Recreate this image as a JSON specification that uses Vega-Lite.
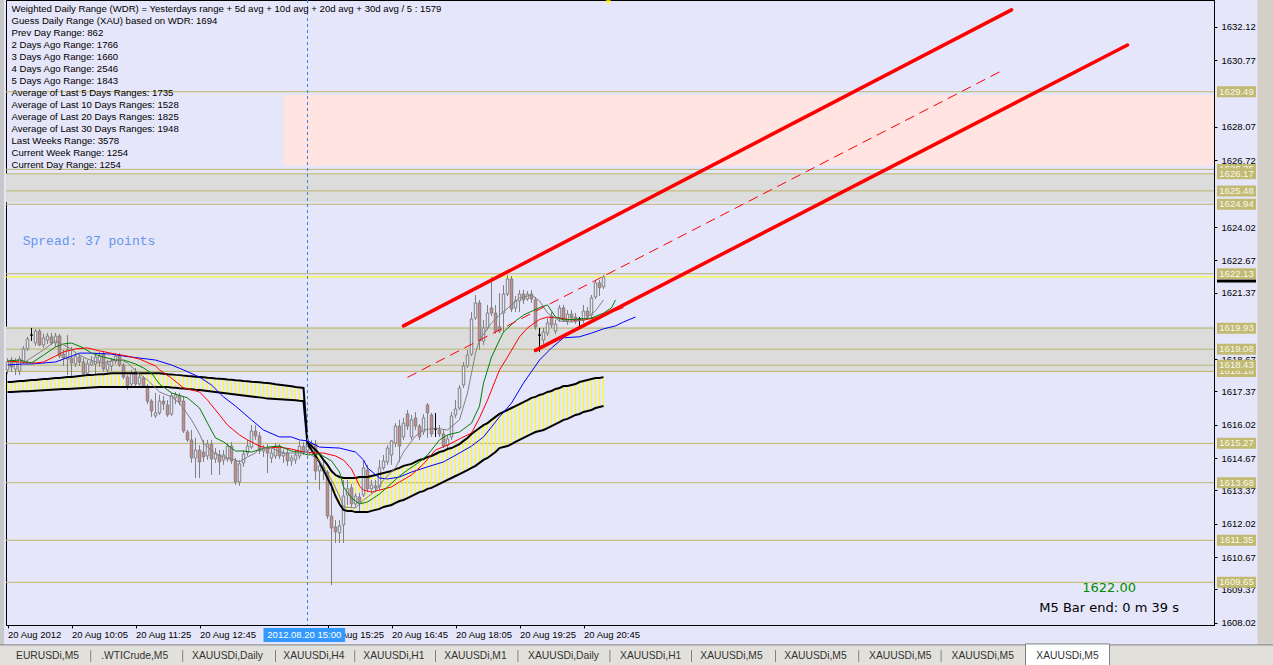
{
"$schema":"https://vega.github.io/schema/vega-lite/v6.json",
"width":1208,"height":625,
"autosize":{"type":"none"},
"padding":{"left":6,"top":0,"right":59,"bottom":40},
"config":{"background":"#E6E6FA","view":{"fill":"#E6E6FA","stroke":"#000000","strokeWidth":1},"font":"Liberation Sans","scale":{"continuousPadding":0}},
"datasets":{
"zones":[
{"t1":"2012-08-20T14:30Z","t2":"2012-08-21T12:00Z","top":1629.36,"bot":1626.50,"k":"pink"},
{"t1":"2012-08-20T06:00Z","t2":"2012-08-21T12:00Z","top":1626.17,"bot":1625.02,"k":"gray"},
{"t1":"2012-08-20T06:00Z","t2":"2012-08-21T12:00Z","top":1620.00,"bot":1618.18,"k":"gray"}],
"levels":[{"v":1629.49},{"v":1626.35},{"v":1626.17},{"v":1625.48},{"v":1624.94},{"v":1622.13},{"v":1619.93},{"v":1619.08},{"v":1618.18},{"v":1618.43},{"v":1615.27},{"v":1613.68},{"v":1611.35},{"v":1609.65}],
"bars":[
{"t":"2012-08-20T08:45Z","o":1618.24,"h":1618.72,"l":1618.07,"c":1618.56,"eu":1617.75,"el":1617.35},
{"t":"2012-08-20T08:50Z","o":1618.64,"h":1618.76,"l":1618.16,"c":1618.36,"eu":1617.75,"el":1617.35},
{"t":"2012-08-20T08:55Z","o":1618.28,"h":1618.72,"l":1618.03,"c":1618.56,"eu":1617.77,"el":1617.36},
{"t":"2012-08-20T09:00Z","o":1618.20,"h":1618.80,"l":1618.03,"c":1618.68,"eu":1617.79,"el":1617.37},
{"t":"2012-08-20T09:05Z","o":1618.56,"h":1619.21,"l":1618.48,"c":1619.09,"eu":1617.79,"el":1617.38},
{"t":"2012-08-20T09:10Z","o":1619.09,"h":1619.58,"l":1619.01,"c":1619.49,"eu":1617.81,"el":1617.38},
{"t":"2012-08-20T09:15Z","o":1619.65,"h":1619.94,"l":1619.41,"c":1619.65,"eu":1617.83,"el":1617.39},
{"t":"2012-08-20T09:20Z","o":1619.33,"h":1619.90,"l":1619.21,"c":1619.81,"eu":1617.83,"el":1617.40},
{"t":"2012-08-20T09:25Z","o":1619.81,"h":1619.90,"l":1619.21,"c":1619.25,"eu":1617.85,"el":1617.41},
{"t":"2012-08-20T09:30Z","o":1619.25,"h":1619.70,"l":1619.13,"c":1619.53,"eu":1617.87,"el":1617.42},
{"t":"2012-08-20T09:35Z","o":1619.45,"h":1619.74,"l":1619.29,"c":1619.61,"eu":1617.87,"el":1617.43},
{"t":"2012-08-20T09:40Z","o":1619.57,"h":1619.74,"l":1619.25,"c":1619.33,"eu":1617.89,"el":1617.44},
{"t":"2012-08-20T09:45Z","o":1619.33,"h":1619.74,"l":1619.17,"c":1619.61,"eu":1617.91,"el":1617.45},
{"t":"2012-08-20T09:50Z","o":1619.61,"h":1619.70,"l":1618.72,"c":1618.80,"eu":1617.91,"el":1617.46},
{"t":"2012-08-20T09:55Z","o":1618.88,"h":1619.05,"l":1618.40,"c":1618.72,"eu":1617.93,"el":1617.47},
{"t":"2012-08-20T10:00Z","o":1618.68,"h":1619.65,"l":1618.03,"c":1619.05,"eu":1617.95,"el":1617.47},
{"t":"2012-08-20T10:05Z","o":1618.72,"h":1619.17,"l":1617.95,"c":1618.52,"eu":1617.95,"el":1617.48},
{"t":"2012-08-20T10:10Z","o":1618.48,"h":1618.92,"l":1618.36,"c":1618.80,"eu":1617.97,"el":1617.49},
{"t":"2012-08-20T10:15Z","o":1618.76,"h":1618.88,"l":1618.40,"c":1618.56,"eu":1617.99,"el":1617.50},
{"t":"2012-08-20T10:20Z","o":1618.56,"h":1618.72,"l":1617.99,"c":1618.07,"eu":1618.01,"el":1617.51},
{"t":"2012-08-20T10:25Z","o":1618.11,"h":1618.64,"l":1617.99,"c":1618.48,"eu":1618.03,"el":1617.52},
{"t":"2012-08-20T10:30Z","o":1618.44,"h":1618.80,"l":1618.40,"c":1618.56,"eu":1618.03,"el":1617.53},
{"t":"2012-08-20T10:35Z","o":1618.48,"h":1618.92,"l":1618.03,"c":1618.76,"eu":1618.05,"el":1617.54},
{"t":"2012-08-20T10:40Z","o":1618.60,"h":1618.97,"l":1618.36,"c":1618.80,"eu":1618.07,"el":1617.55},
{"t":"2012-08-20T10:45Z","o":1618.88,"h":1619.01,"l":1618.16,"c":1618.28,"eu":1618.07,"el":1617.55},
{"t":"2012-08-20T10:50Z","o":1618.24,"h":1618.64,"l":1618.07,"c":1618.48,"eu":1618.09,"el":1617.55},
{"t":"2012-08-20T10:55Z","o":1618.40,"h":1618.72,"l":1618.20,"c":1618.60,"eu":1618.11,"el":1617.55},
{"t":"2012-08-20T11:00Z","o":1618.60,"h":1618.92,"l":1618.48,"c":1618.80,"eu":1618.11,"el":1617.55},
{"t":"2012-08-20T11:05Z","o":1618.80,"h":1618.92,"l":1618.36,"c":1618.44,"eu":1618.11,"el":1617.55},
{"t":"2012-08-20T11:10Z","o":1618.44,"h":1618.52,"l":1617.87,"c":1617.95,"eu":1618.11,"el":1617.55},
{"t":"2012-08-20T11:15Z","o":1617.95,"h":1618.03,"l":1617.43,"c":1617.59,"eu":1618.11,"el":1617.55},
{"t":"2012-08-20T11:20Z","o":1617.67,"h":1618.24,"l":1617.59,"c":1618.11,"eu":1618.11,"el":1617.55},
{"t":"2012-08-20T11:25Z","o":1618.16,"h":1618.32,"l":1617.59,"c":1617.67,"eu":1618.11,"el":1617.55},
{"t":"2012-08-20T11:30Z","o":1617.67,"h":1618.07,"l":1617.51,"c":1617.95,"eu":1618.11,"el":1617.55},
{"t":"2012-08-20T11:35Z","o":1617.91,"h":1617.99,"l":1617.51,"c":1617.59,"eu":1618.11,"el":1617.55},
{"t":"2012-08-20T11:40Z","o":1617.59,"h":1617.67,"l":1616.86,"c":1616.98,"eu":1618.11,"el":1617.55},
{"t":"2012-08-20T11:45Z","o":1616.98,"h":1617.06,"l":1616.34,"c":1616.58,"eu":1618.11,"el":1617.55},
{"t":"2012-08-20T11:50Z","o":1616.38,"h":1617.31,"l":1616.30,"c":1616.50,"eu":1618.11,"el":1617.55},
{"t":"2012-08-20T11:55Z","o":1616.50,"h":1617.23,"l":1616.42,"c":1616.98,"eu":1618.11,"el":1617.55},
{"t":"2012-08-20T12:00Z","o":1616.98,"h":1617.19,"l":1616.62,"c":1616.86,"eu":1618.09,"el":1617.55},
{"t":"2012-08-20T12:05Z","o":1616.82,"h":1617.02,"l":1616.34,"c":1616.42,"eu":1618.07,"el":1617.55},
{"t":"2012-08-20T12:10Z","o":1616.46,"h":1617.31,"l":1616.38,"c":1617.19,"eu":1618.06,"el":1617.53},
{"t":"2012-08-20T12:15Z","o":1617.11,"h":1617.35,"l":1616.86,"c":1617.23,"eu":1618.04,"el":1617.52},
{"t":"2012-08-20T12:20Z","o":1617.19,"h":1617.31,"l":1616.82,"c":1616.94,"eu":1618.03,"el":1617.50},
{"t":"2012-08-20T12:25Z","o":1616.98,"h":1617.15,"l":1615.69,"c":1615.77,"eu":1618.01,"el":1617.49},
{"t":"2012-08-20T12:30Z","o":1615.73,"h":1615.81,"l":1615.33,"c":1615.41,"eu":1617.99,"el":1617.47},
{"t":"2012-08-20T12:35Z","o":1615.41,"h":1615.81,"l":1614.48,"c":1614.68,"eu":1617.98,"el":1617.46},
{"t":"2012-08-20T12:40Z","o":1614.68,"h":1615.49,"l":1613.87,"c":1615.00,"eu":1617.96,"el":1617.44},
{"t":"2012-08-20T12:45Z","o":1615.00,"h":1615.20,"l":1613.87,"c":1614.52,"eu":1617.95,"el":1617.43},
{"t":"2012-08-20T12:50Z","o":1614.92,"h":1615.41,"l":1614.52,"c":1614.72,"eu":1617.94,"el":1617.41},
{"t":"2012-08-20T12:55Z","o":1614.76,"h":1615.41,"l":1614.60,"c":1615.24,"eu":1617.92,"el":1617.39},
{"t":"2012-08-20T13:00Z","o":1615.24,"h":1615.41,"l":1613.99,"c":1614.64,"eu":1617.91,"el":1617.37},
{"t":"2012-08-20T13:05Z","o":1614.64,"h":1615.08,"l":1614.48,"c":1614.88,"eu":1617.89,"el":1617.35},
{"t":"2012-08-20T13:10Z","o":1614.80,"h":1615.00,"l":1613.99,"c":1614.52,"eu":1617.88,"el":1617.33},
{"t":"2012-08-20T13:15Z","o":1614.60,"h":1615.00,"l":1614.40,"c":1614.80,"eu":1617.87,"el":1617.31},
{"t":"2012-08-20T13:20Z","o":1614.64,"h":1615.28,"l":1614.52,"c":1615.16,"eu":1617.85,"el":1617.29},
{"t":"2012-08-20T13:25Z","o":1615.16,"h":1615.32,"l":1614.44,"c":1614.56,"eu":1617.84,"el":1617.27},
{"t":"2012-08-20T13:30Z","o":1614.56,"h":1614.68,"l":1613.59,"c":1613.71,"eu":1617.82,"el":1617.25},
{"t":"2012-08-20T13:35Z","o":1613.71,"h":1614.60,"l":1613.55,"c":1614.44,"eu":1617.81,"el":1617.23},
{"t":"2012-08-20T13:40Z","o":1614.48,"h":1615.00,"l":1614.32,"c":1614.84,"eu":1617.79,"el":1617.21},
{"t":"2012-08-20T13:45Z","o":1614.88,"h":1615.41,"l":1614.76,"c":1615.16,"eu":1617.78,"el":1617.19},
{"t":"2012-08-20T13:50Z","o":1615.12,"h":1616.01,"l":1615.04,"c":1615.77,"eu":1617.76,"el":1617.17},
{"t":"2012-08-20T13:55Z","o":1615.77,"h":1616.01,"l":1615.41,"c":1615.57,"eu":1617.75,"el":1617.15},
{"t":"2012-08-20T14:00Z","o":1615.57,"h":1615.73,"l":1614.84,"c":1614.96,"eu":1617.74,"el":1617.13},
{"t":"2012-08-20T14:05Z","o":1614.96,"h":1615.20,"l":1614.72,"c":1615.04,"eu":1617.72,"el":1617.11},
{"t":"2012-08-20T14:10Z","o":1615.08,"h":1615.24,"l":1614.07,"c":1614.88,"eu":1617.71,"el":1617.08},
{"t":"2012-08-20T14:15Z","o":1614.68,"h":1615.04,"l":1614.48,"c":1614.88,"eu":1617.69,"el":1617.07},
{"t":"2012-08-20T14:20Z","o":1614.76,"h":1615.28,"l":1614.64,"c":1615.16,"eu":1617.66,"el":1617.06},
{"t":"2012-08-20T14:25Z","o":1615.16,"h":1615.24,"l":1614.64,"c":1614.76,"eu":1617.64,"el":1617.05},
{"t":"2012-08-20T14:30Z","o":1614.76,"h":1615.04,"l":1614.48,"c":1614.88,"eu":1617.62,"el":1617.04},
{"t":"2012-08-20T14:35Z","o":1614.88,"h":1615.00,"l":1614.36,"c":1614.56,"eu":1617.60,"el":1617.03},
{"t":"2012-08-20T14:40Z","o":1614.56,"h":1614.80,"l":1614.36,"c":1614.68,"eu":1617.58,"el":1617.02},
{"t":"2012-08-20T14:45Z","o":1614.60,"h":1615.00,"l":1614.44,"c":1614.80,"eu":1617.55,"el":1617.01},
{"t":"2012-08-20T14:50Z","o":1614.76,"h":1615.37,"l":1614.64,"c":1615.16,"eu":1617.53,"el":1616.99},
{"t":"2012-08-20T14:55Z","o":1615.16,"h":1615.32,"l":1614.80,"c":1614.92,"eu":1617.51,"el":1616.98},
{"t":"2012-08-20T15:00Z","o":1614.96,"h":1615.41,"l":1614.80,"c":1615.24,"eu":1615.33,"el":1615.24},
{"t":"2012-08-20T15:05Z","o":1615.24,"h":1615.41,"l":1614.92,"c":1615.08,"eu":1615.16,"el":1615.00},
{"t":"2012-08-20T15:10Z","o":1615.24,"h":1615.41,"l":1613.79,"c":1614.15,"eu":1615.00,"el":1614.76},
{"t":"2012-08-20T15:15Z","o":1614.15,"h":1614.52,"l":1613.38,"c":1614.36,"eu":1614.84,"el":1614.52},
{"t":"2012-08-20T15:20Z","o":1614.32,"h":1614.60,"l":1613.79,"c":1614.15,"eu":1614.60,"el":1614.19},
{"t":"2012-08-20T15:25Z","o":1614.11,"h":1614.19,"l":1612.21,"c":1612.33,"eu":1614.40,"el":1613.87},
{"t":"2012-08-20T15:30Z","o":1612.33,"h":1613.71,"l":1609.54,"c":1611.85,"eu":1614.15,"el":1613.55},
{"t":"2012-08-20T15:35Z","o":1611.89,"h":1612.17,"l":1611.24,"c":1611.69,"eu":1613.99,"el":1613.14},
{"t":"2012-08-20T15:40Z","o":1611.65,"h":1612.17,"l":1611.24,"c":1611.93,"eu":1613.91,"el":1612.82},
{"t":"2012-08-20T15:45Z","o":1611.97,"h":1613.79,"l":1611.24,"c":1613.14,"eu":1613.87,"el":1612.58},
{"t":"2012-08-20T15:50Z","o":1613.18,"h":1613.79,"l":1612.78,"c":1613.43,"eu":1613.87,"el":1612.54},
{"t":"2012-08-20T15:55Z","o":1613.47,"h":1613.63,"l":1612.70,"c":1612.82,"eu":1613.87,"el":1612.54},
{"t":"2012-08-20T16:00Z","o":1612.82,"h":1613.26,"l":1612.70,"c":1613.14,"eu":1613.87,"el":1612.49},
{"t":"2012-08-20T16:05Z","o":1613.10,"h":1613.26,"l":1612.49,"c":1612.86,"eu":1613.91,"el":1612.49},
{"t":"2012-08-20T16:10Z","o":1613.18,"h":1614.60,"l":1613.10,"c":1614.28,"eu":1613.91,"el":1612.49},
{"t":"2012-08-20T16:15Z","o":1614.19,"h":1614.40,"l":1613.30,"c":1613.43,"eu":1613.91,"el":1612.49},
{"t":"2012-08-20T16:20Z","o":1613.43,"h":1613.79,"l":1613.26,"c":1613.59,"eu":1613.95,"el":1612.54},
{"t":"2012-08-20T16:25Z","o":1613.55,"h":1613.79,"l":1613.30,"c":1613.47,"eu":1613.99,"el":1612.58},
{"t":"2012-08-20T16:30Z","o":1613.51,"h":1614.60,"l":1613.38,"c":1614.28,"eu":1614.03,"el":1612.62},
{"t":"2012-08-20T16:35Z","o":1614.28,"h":1614.80,"l":1614.19,"c":1614.56,"eu":1614.07,"el":1612.70},
{"t":"2012-08-20T16:40Z","o":1614.52,"h":1615.20,"l":1614.40,"c":1615.08,"eu":1614.11,"el":1612.74},
{"t":"2012-08-20T16:45Z","o":1614.80,"h":1615.41,"l":1614.40,"c":1615.37,"eu":1614.15,"el":1612.78},
{"t":"2012-08-20T16:50Z","o":1615.28,"h":1616.09,"l":1615.12,"c":1615.97,"eu":1614.23,"el":1612.86},
{"t":"2012-08-20T16:55Z","o":1615.97,"h":1616.22,"l":1614.52,"c":1615.16,"eu":1614.28,"el":1612.94},
{"t":"2012-08-20T17:00Z","o":1615.53,"h":1616.30,"l":1615.41,"c":1616.09,"eu":1614.36,"el":1612.98},
{"t":"2012-08-20T17:05Z","o":1616.46,"h":1616.62,"l":1615.81,"c":1615.97,"eu":1614.40,"el":1613.06},
{"t":"2012-08-20T17:10Z","o":1615.53,"h":1616.42,"l":1615.41,"c":1616.22,"eu":1614.44,"el":1613.14},
{"t":"2012-08-20T17:15Z","o":1616.30,"h":1616.54,"l":1615.81,"c":1615.97,"eu":1614.52,"el":1613.22},
{"t":"2012-08-20T17:20Z","o":1615.97,"h":1616.05,"l":1615.41,"c":1615.53,"eu":1614.60,"el":1613.30},
{"t":"2012-08-20T17:25Z","o":1615.73,"h":1616.46,"l":1615.61,"c":1616.30,"eu":1614.64,"el":1613.34},
{"t":"2012-08-20T17:30Z","o":1616.82,"h":1616.90,"l":1615.49,"c":1616.50,"eu":1614.72,"el":1613.43},
{"t":"2012-08-20T17:35Z","o":1616.42,"h":1616.50,"l":1615.53,"c":1615.65,"eu":1614.76,"el":1613.47},
{"t":"2012-08-20T17:40Z","o":1615.85,"h":1616.50,"l":1615.53,"c":1615.85,"eu":1614.84,"el":1613.55},
{"t":"2012-08-20T17:45Z","o":1615.81,"h":1616.01,"l":1615.53,"c":1615.65,"eu":1614.92,"el":1613.63},
{"t":"2012-08-20T17:50Z","o":1615.65,"h":1615.81,"l":1615.08,"c":1615.16,"eu":1614.96,"el":1613.71},
{"t":"2012-08-20T17:55Z","o":1615.20,"h":1615.61,"l":1615.08,"c":1615.45,"eu":1615.04,"el":1613.79},
{"t":"2012-08-20T18:00Z","o":1615.53,"h":1616.54,"l":1615.41,"c":1616.38,"eu":1615.08,"el":1613.87},
{"t":"2012-08-20T18:05Z","o":1616.42,"h":1617.02,"l":1616.30,"c":1616.66,"eu":1615.16,"el":1613.95},
{"t":"2012-08-20T18:10Z","o":1616.70,"h":1617.63,"l":1616.62,"c":1617.51,"eu":1615.24,"el":1614.03},
{"t":"2012-08-20T18:15Z","o":1617.63,"h":1618.56,"l":1617.51,"c":1618.40,"eu":1615.37,"el":1614.11},
{"t":"2012-08-20T18:20Z","o":1618.40,"h":1619.05,"l":1618.32,"c":1618.84,"eu":1615.49,"el":1614.19},
{"t":"2012-08-20T18:25Z","o":1618.88,"h":1620.58,"l":1618.80,"c":1620.30,"eu":1615.65,"el":1614.28},
{"t":"2012-08-20T18:30Z","o":1620.34,"h":1621.27,"l":1620.26,"c":1620.95,"eu":1615.77,"el":1614.36},
{"t":"2012-08-20T18:35Z","o":1620.95,"h":1621.07,"l":1619.05,"c":1619.41,"eu":1615.89,"el":1614.48},
{"t":"2012-08-20T18:40Z","o":1619.41,"h":1620.26,"l":1619.25,"c":1619.94,"eu":1616.01,"el":1614.60},
{"t":"2012-08-20T18:45Z","o":1619.94,"h":1620.87,"l":1619.86,"c":1620.54,"eu":1616.09,"el":1614.68},
{"t":"2012-08-20T18:50Z","o":1620.75,"h":1622.00,"l":1620.42,"c":1620.54,"eu":1616.22,"el":1614.80},
{"t":"2012-08-20T18:55Z","o":1620.54,"h":1620.87,"l":1619.70,"c":1619.81,"eu":1616.34,"el":1614.92},
{"t":"2012-08-20T19:00Z","o":1619.98,"h":1621.35,"l":1619.73,"c":1619.81,"eu":1616.46,"el":1615.08},
{"t":"2012-08-20T19:05Z","o":1620.54,"h":1621.67,"l":1619.77,"c":1621.31,"eu":1616.54,"el":1615.12},
{"t":"2012-08-20T19:10Z","o":1621.31,"h":1622.08,"l":1621.23,"c":1621.92,"eu":1616.62,"el":1615.16},
{"t":"2012-08-20T19:15Z","o":1621.92,"h":1622.04,"l":1620.58,"c":1620.70,"eu":1616.70,"el":1615.24},
{"t":"2012-08-20T19:20Z","o":1620.75,"h":1621.23,"l":1620.58,"c":1621.03,"eu":1616.78,"el":1615.33},
{"t":"2012-08-20T19:25Z","o":1621.03,"h":1621.47,"l":1620.58,"c":1621.31,"eu":1616.86,"el":1615.41},
{"t":"2012-08-20T19:30Z","o":1621.31,"h":1621.47,"l":1620.91,"c":1621.07,"eu":1616.94,"el":1615.49},
{"t":"2012-08-20T19:35Z","o":1621.11,"h":1621.43,"l":1621.03,"c":1621.31,"eu":1617.02,"el":1615.57},
{"t":"2012-08-20T19:40Z","o":1621.31,"h":1621.47,"l":1620.95,"c":1621.11,"eu":1617.11,"el":1615.65},
{"t":"2012-08-20T19:45Z","o":1621.07,"h":1621.19,"l":1619.86,"c":1619.98,"eu":1617.15,"el":1615.73},
{"t":"2012-08-20T19:50Z","o":1619.65,"h":1619.94,"l":1618.97,"c":1619.65,"eu":1617.23,"el":1615.77},
{"t":"2012-08-20T19:55Z","o":1619.45,"h":1619.94,"l":1619.29,"c":1619.77,"eu":1617.27,"el":1615.81},
{"t":"2012-08-20T20:00Z","o":1619.73,"h":1620.34,"l":1619.61,"c":1620.14,"eu":1617.35,"el":1615.89},
{"t":"2012-08-20T20:05Z","o":1620.42,"h":1620.58,"l":1619.94,"c":1620.06,"eu":1617.39,"el":1615.97},
{"t":"2012-08-20T20:10Z","o":1619.81,"h":1620.26,"l":1619.69,"c":1620.10,"eu":1617.47,"el":1616.05},
{"t":"2012-08-20T20:15Z","o":1620.34,"h":1620.87,"l":1620.18,"c":1620.75,"eu":1617.51,"el":1616.13},
{"t":"2012-08-20T20:20Z","o":1620.75,"h":1620.87,"l":1620.18,"c":1620.30,"eu":1617.59,"el":1616.22},
{"t":"2012-08-20T20:25Z","o":1620.22,"h":1620.66,"l":1620.06,"c":1620.50,"eu":1617.59,"el":1616.26},
{"t":"2012-08-20T20:30Z","o":1620.50,"h":1620.66,"l":1620.18,"c":1620.34,"eu":1617.63,"el":1616.34},
{"t":"2012-08-20T20:35Z","o":1620.38,"h":1620.54,"l":1620.10,"c":1620.22,"eu":1617.67,"el":1616.42},
{"t":"2012-08-20T20:40Z","o":1620.30,"h":1620.38,"l":1619.98,"c":1620.30,"eu":1617.75,"el":1616.46},
{"t":"2012-08-20T20:45Z","o":1620.26,"h":1620.87,"l":1620.14,"c":1620.62,"eu":1617.79,"el":1616.54},
{"t":"2012-08-20T20:50Z","o":1620.62,"h":1620.79,"l":1620.30,"c":1620.42,"eu":1617.83,"el":1616.58},
{"t":"2012-08-20T20:55Z","o":1620.46,"h":1621.27,"l":1620.34,"c":1621.15,"eu":1617.87,"el":1616.62},
{"t":"2012-08-20T21:00Z","o":1621.19,"h":1621.88,"l":1621.11,"c":1621.76,"eu":1617.91,"el":1616.70},
{"t":"2012-08-20T21:05Z","o":1621.76,"h":1621.88,"l":1621.23,"c":1621.56,"eu":1617.91,"el":1616.74},
{"t":"2012-08-20T21:10Z","o":1621.60,"h":1622.08,"l":1621.51,"c":1622.00,"eu":1617.95,"el":1616.78}],
"ma":[
{"t":"2012-08-20T08:45Z","s":"b","v":1618.44},{"t":"2012-08-20T09:05Z","s":"b","v":1618.48},{"t":"2012-08-20T09:15Z","s":"b","v":1618.48},{"t":"2012-08-20T09:45Z","s":"b","v":1618.56},{"t":"2012-08-20T10:05Z","s":"b","v":1618.80},{"t":"2012-08-20T10:15Z","s":"b","v":1618.92},{"t":"2012-08-20T10:30Z","s":"b","v":1618.92},{"t":"2012-08-20T10:55Z","s":"b","v":1618.88},{"t":"2012-08-20T11:10Z","s":"b","v":1618.80},{"t":"2012-08-20T11:30Z","s":"b","v":1618.72},{"t":"2012-08-20T11:50Z","s":"b","v":1618.64},{"t":"2012-08-20T12:10Z","s":"b","v":1618.44},{"t":"2012-08-20T12:25Z","s":"b","v":1618.24},{"t":"2012-08-20T12:45Z","s":"b","v":1617.95},{"t":"2012-08-20T13:00Z","s":"b","v":1617.63},{"t":"2012-08-20T13:15Z","s":"b","v":1617.15},{"t":"2012-08-20T13:30Z","s":"b","v":1616.78},{"t":"2012-08-20T13:50Z","s":"b","v":1616.22},{"t":"2012-08-20T14:05Z","s":"b","v":1615.81},{"t":"2012-08-20T14:25Z","s":"b","v":1615.53},{"t":"2012-08-20T14:40Z","s":"b","v":1615.53},{"t":"2012-08-20T14:50Z","s":"b","v":1615.41},{"t":"2012-08-20T15:00Z","s":"b","v":1615.37},{"t":"2012-08-20T15:15Z","s":"b","v":1615.12},{"t":"2012-08-20T15:40Z","s":"b","v":1615.08},{"t":"2012-08-20T16:00Z","s":"b","v":1614.92},{"t":"2012-08-20T16:10Z","s":"b","v":1614.60},{"t":"2012-08-20T16:15Z","s":"b","v":1614.28},{"t":"2012-08-20T16:30Z","s":"b","v":1613.87},{"t":"2012-08-20T16:40Z","s":"b","v":1613.83},{"t":"2012-08-20T16:55Z","s":"b","v":1613.91},{"t":"2012-08-20T17:10Z","s":"b","v":1614.11},{"t":"2012-08-20T17:30Z","s":"b","v":1614.32},{"t":"2012-08-20T17:50Z","s":"b","v":1614.52},{"t":"2012-08-20T18:10Z","s":"b","v":1614.88},{"t":"2012-08-20T18:25Z","s":"b","v":1615.16},{"t":"2012-08-20T18:40Z","s":"b","v":1615.53},{"t":"2012-08-20T19:00Z","s":"b","v":1616.34},{"t":"2012-08-20T19:15Z","s":"b","v":1616.90},{"t":"2012-08-20T19:30Z","s":"b","v":1617.71},{"t":"2012-08-20T19:50Z","s":"b","v":1618.64},{"t":"2012-08-20T20:05Z","s":"b","v":1619.13},{"t":"2012-08-20T20:20Z","s":"b","v":1619.54},{"t":"2012-08-20T20:40Z","s":"b","v":1619.58},{"t":"2012-08-20T20:55Z","s":"b","v":1619.73},{"t":"2012-08-20T21:10Z","s":"b","v":1619.90},{"t":"2012-08-20T21:25Z","s":"b","v":1620.02},{"t":"2012-08-20T21:35Z","s":"b","v":1620.18},{"t":"2012-08-20T21:50Z","s":"b","v":1620.38},
{"t":"2012-08-20T08:45Z","s":"r","v":1618.60},{"t":"2012-08-20T09:00Z","s":"r","v":1618.56},{"t":"2012-08-20T09:20Z","s":"r","v":1618.52},{"t":"2012-08-20T09:30Z","s":"r","v":1618.56},{"t":"2012-08-20T09:45Z","s":"r","v":1618.80},{"t":"2012-08-20T09:55Z","s":"r","v":1618.97},{"t":"2012-08-20T10:10Z","s":"r","v":1619.09},{"t":"2012-08-20T10:25Z","s":"r","v":1619.13},{"t":"2012-08-20T10:40Z","s":"r","v":1619.01},{"t":"2012-08-20T11:00Z","s":"r","v":1618.88},{"t":"2012-08-20T11:15Z","s":"r","v":1618.80},{"t":"2012-08-20T11:30Z","s":"r","v":1618.68},{"t":"2012-08-20T11:50Z","s":"r","v":1618.40},{"t":"2012-08-20T11:55Z","s":"r","v":1618.24},{"t":"2012-08-20T12:10Z","s":"r","v":1617.91},{"t":"2012-08-20T12:25Z","s":"r","v":1617.51},{"t":"2012-08-20T12:45Z","s":"r","v":1617.35},{"t":"2012-08-20T12:55Z","s":"r","v":1617.02},{"t":"2012-08-20T13:10Z","s":"r","v":1616.42},{"t":"2012-08-20T13:20Z","s":"r","v":1616.01},{"t":"2012-08-20T13:35Z","s":"r","v":1615.61},{"t":"2012-08-20T13:45Z","s":"r","v":1615.41},{"t":"2012-08-20T14:00Z","s":"r","v":1615.16},{"t":"2012-08-20T14:10Z","s":"r","v":1615.08},{"t":"2012-08-20T14:25Z","s":"r","v":1615.12},{"t":"2012-08-20T14:40Z","s":"r","v":1615.04},{"t":"2012-08-20T14:55Z","s":"r","v":1614.92},{"t":"2012-08-20T15:10Z","s":"r","v":1614.88},{"t":"2012-08-20T15:20Z","s":"r","v":1614.88},{"t":"2012-08-20T15:35Z","s":"r","v":1614.76},{"t":"2012-08-20T15:45Z","s":"r","v":1614.60},{"t":"2012-08-20T15:55Z","s":"r","v":1614.23},{"t":"2012-08-20T16:05Z","s":"r","v":1613.55},{"t":"2012-08-20T16:10Z","s":"r","v":1613.38},{"t":"2012-08-20T16:20Z","s":"r","v":1613.30},{"t":"2012-08-20T16:30Z","s":"r","v":1613.38},{"t":"2012-08-20T16:45Z","s":"r","v":1613.51},{"t":"2012-08-20T16:55Z","s":"r","v":1613.71},{"t":"2012-08-20T17:10Z","s":"r","v":1613.99},{"t":"2012-08-20T17:25Z","s":"r","v":1614.44},{"t":"2012-08-20T17:40Z","s":"r","v":1615.00},{"t":"2012-08-20T17:55Z","s":"r","v":1615.20},{"t":"2012-08-20T18:10Z","s":"r","v":1615.45},{"t":"2012-08-20T18:25Z","s":"r","v":1615.69},{"t":"2012-08-20T18:35Z","s":"r","v":1616.30},{"t":"2012-08-20T18:45Z","s":"r","v":1617.02},{"t":"2012-08-20T19:00Z","s":"r","v":1618.24},{"t":"2012-08-20T19:10Z","s":"r","v":1618.76},{"t":"2012-08-20T19:25Z","s":"r","v":1619.58},{"t":"2012-08-20T19:35Z","s":"r","v":1619.94},{"t":"2012-08-20T19:50Z","s":"r","v":1620.28},{"t":"2012-08-20T20:00Z","s":"r","v":1620.38},{"t":"2012-08-20T20:15Z","s":"r","v":1620.34},{"t":"2012-08-20T20:30Z","s":"r","v":1620.26},{"t":"2012-08-20T20:45Z","s":"r","v":1620.26},{"t":"2012-08-20T21:05Z","s":"r","v":1620.38},{"t":"2012-08-20T21:20Z","s":"r","v":1620.58},{"t":"2012-08-20T21:35Z","s":"r","v":1620.76},
{"t":"2012-08-20T08:45Z","s":"n","v":1618.60},{"t":"2012-08-20T09:00Z","s":"n","v":1618.64},{"t":"2012-08-20T09:15Z","s":"n","v":1618.52},{"t":"2012-08-20T09:30Z","s":"n","v":1618.84},{"t":"2012-08-20T09:45Z","s":"n","v":1619.17},{"t":"2012-08-20T09:55Z","s":"n","v":1619.29},{"t":"2012-08-20T10:05Z","s":"n","v":1619.33},{"t":"2012-08-20T10:20Z","s":"n","v":1619.13},{"t":"2012-08-20T10:30Z","s":"n","v":1618.92},{"t":"2012-08-20T10:45Z","s":"n","v":1618.76},{"t":"2012-08-20T11:00Z","s":"n","v":1618.64},{"t":"2012-08-20T11:10Z","s":"n","v":1618.64},{"t":"2012-08-20T11:25Z","s":"n","v":1618.48},{"t":"2012-08-20T11:35Z","s":"n","v":1618.32},{"t":"2012-08-20T11:45Z","s":"n","v":1618.11},{"t":"2012-08-20T11:55Z","s":"n","v":1617.67},{"t":"2012-08-20T12:10Z","s":"n","v":1617.31},{"t":"2012-08-20T12:30Z","s":"n","v":1617.11},{"t":"2012-08-20T12:45Z","s":"n","v":1616.70},{"t":"2012-08-20T12:55Z","s":"n","v":1616.09},{"t":"2012-08-20T13:05Z","s":"n","v":1615.49},{"t":"2012-08-20T13:15Z","s":"n","v":1615.33},{"t":"2012-08-20T13:30Z","s":"n","v":1614.96},{"t":"2012-08-20T13:40Z","s":"n","v":1614.96},{"t":"2012-08-20T13:50Z","s":"n","v":1614.92},{"t":"2012-08-20T14:10Z","s":"n","v":1615.12},{"t":"2012-08-20T14:25Z","s":"n","v":1615.16},{"t":"2012-08-20T14:40Z","s":"n","v":1614.96},{"t":"2012-08-20T14:50Z","s":"n","v":1614.92},{"t":"2012-08-20T15:00Z","s":"n","v":1614.80},{"t":"2012-08-20T15:15Z","s":"n","v":1614.84},{"t":"2012-08-20T15:30Z","s":"n","v":1614.56},{"t":"2012-08-20T15:40Z","s":"n","v":1614.11},{"t":"2012-08-20T15:45Z","s":"n","v":1613.51},{"t":"2012-08-20T15:55Z","s":"n","v":1613.06},{"t":"2012-08-20T16:05Z","s":"n","v":1612.82},{"t":"2012-08-20T16:15Z","s":"n","v":1612.90},{"t":"2012-08-20T16:30Z","s":"n","v":1613.22},{"t":"2012-08-20T16:40Z","s":"n","v":1613.51},{"t":"2012-08-20T16:55Z","s":"n","v":1613.95},{"t":"2012-08-20T17:05Z","s":"n","v":1614.19},{"t":"2012-08-20T17:20Z","s":"n","v":1614.52},{"t":"2012-08-20T17:30Z","s":"n","v":1614.80},{"t":"2012-08-20T17:45Z","s":"n","v":1615.41},{"t":"2012-08-20T17:55Z","s":"n","v":1615.61},{"t":"2012-08-20T18:10Z","s":"n","v":1615.73},{"t":"2012-08-20T18:25Z","s":"n","v":1616.09},{"t":"2012-08-20T18:35Z","s":"n","v":1616.78},{"t":"2012-08-20T18:40Z","s":"n","v":1617.71},{"t":"2012-08-20T18:50Z","s":"n","v":1618.76},{"t":"2012-08-20T19:00Z","s":"n","v":1619.45},{"t":"2012-08-20T19:05Z","s":"n","v":1619.77},{"t":"2012-08-20T19:20Z","s":"n","v":1620.22},{"t":"2012-08-20T19:30Z","s":"n","v":1620.46},{"t":"2012-08-20T19:50Z","s":"n","v":1620.76},{"t":"2012-08-20T20:00Z","s":"n","v":1620.87},{"t":"2012-08-20T20:10Z","s":"n","v":1620.38},{"t":"2012-08-20T20:20Z","s":"n","v":1620.26},{"t":"2012-08-20T20:40Z","s":"n","v":1620.30},{"t":"2012-08-20T20:55Z","s":"n","v":1620.34},{"t":"2012-08-20T21:10Z","s":"n","v":1620.54},{"t":"2012-08-20T21:20Z","s":"n","v":1620.75},{"t":"2012-08-20T21:25Z","s":"n","v":1621.07},
{"t":"2012-08-20T09:05Z","s":"g","v":1618.52},{"t":"2012-08-20T09:30Z","s":"g","v":1619.05},{"t":"2012-08-20T09:45Z","s":"g","v":1619.41},{"t":"2012-08-20T10:00Z","s":"g","v":1619.17},{"t":"2012-08-20T10:15Z","s":"g","v":1618.84},{"t":"2012-08-20T10:25Z","s":"g","v":1618.68},{"t":"2012-08-20T10:40Z","s":"g","v":1618.52},{"t":"2012-08-20T10:50Z","s":"g","v":1618.56},{"t":"2012-08-20T11:05Z","s":"g","v":1618.68},{"t":"2012-08-20T11:15Z","s":"g","v":1618.52},{"t":"2012-08-20T11:30Z","s":"g","v":1618.07},{"t":"2012-08-20T11:40Z","s":"g","v":1617.83},{"t":"2012-08-20T11:50Z","s":"g","v":1617.51},{"t":"2012-08-20T11:55Z","s":"g","v":1617.35},{"t":"2012-08-20T12:10Z","s":"g","v":1617.15},{"t":"2012-08-20T12:20Z","s":"g","v":1616.90},{"t":"2012-08-20T12:35Z","s":"g","v":1616.22},{"t":"2012-08-20T12:45Z","s":"g","v":1615.65},{"t":"2012-08-20T12:50Z","s":"g","v":1615.28},{"t":"2012-08-20T13:05Z","s":"g","v":1614.84},{"t":"2012-08-20T13:15Z","s":"g","v":1614.72},{"t":"2012-08-20T13:30Z","s":"g","v":1614.60},{"t":"2012-08-20T13:35Z","s":"g","v":1614.52},{"t":"2012-08-20T13:45Z","s":"g","v":1614.72},{"t":"2012-08-20T13:55Z","s":"g","v":1614.88},{"t":"2012-08-20T14:00Z","s":"g","v":1615.08},{"t":"2012-08-20T14:15Z","s":"g","v":1615.08},{"t":"2012-08-20T14:30Z","s":"g","v":1614.88},{"t":"2012-08-20T14:50Z","s":"g","v":1614.88},{"t":"2012-08-20T15:00Z","s":"g","v":1614.92},{"t":"2012-08-20T15:15Z","s":"g","v":1614.56},{"t":"2012-08-20T15:30Z","s":"g","v":1613.79},{"t":"2012-08-20T15:40Z","s":"g","v":1613.14},{"t":"2012-08-20T15:45Z","s":"g","v":1612.70},{"t":"2012-08-20T16:00Z","s":"g","v":1612.66},{"t":"2012-08-20T16:10Z","s":"g","v":1612.98},{"t":"2012-08-20T16:25Z","s":"g","v":1613.34},{"t":"2012-08-20T16:35Z","s":"g","v":1613.79},{"t":"2012-08-20T16:50Z","s":"g","v":1614.28},{"t":"2012-08-20T17:00Z","s":"g","v":1614.92},{"t":"2012-08-20T17:15Z","s":"g","v":1615.57},{"t":"2012-08-20T17:25Z","s":"g","v":1615.81},{"t":"2012-08-20T17:40Z","s":"g","v":1615.89},{"t":"2012-08-20T17:55Z","s":"g","v":1615.81},{"t":"2012-08-20T18:10Z","s":"g","v":1616.22},{"t":"2012-08-20T18:20Z","s":"g","v":1617.31},{"t":"2012-08-20T18:30Z","s":"g","v":1618.92},{"t":"2012-08-20T18:35Z","s":"g","v":1619.45},{"t":"2012-08-20T18:50Z","s":"g","v":1620.14},{"t":"2012-08-20T19:00Z","s":"g","v":1620.46},{"t":"2012-08-20T19:15Z","s":"g","v":1620.87},{"t":"2012-08-20T19:25Z","s":"g","v":1621.15},{"t":"2012-08-20T19:40Z","s":"g","v":1621.27},{"t":"2012-08-20T19:50Z","s":"g","v":1621.03},{"t":"2012-08-20T20:00Z","s":"g","v":1620.54},{"t":"2012-08-20T20:15Z","s":"g","v":1620.22},{"t":"2012-08-20T20:30Z","s":"g","v":1620.18},{"t":"2012-08-20T20:45Z","s":"g","v":1620.26},{"t":"2012-08-20T21:00Z","s":"g","v":1620.63},{"t":"2012-08-20T21:10Z","s":"g","v":1621.07}],
"trend":[
{"t":"2012-08-20T17:00Z","v":1620.02,"s":"up"},{"t":"2012-08-21T05:40Z","v":1632.80,"s":"up"},
{"t":"2012-08-20T19:45Z","v":1619.03,"s":"lo"},{"t":"2012-08-21T08:05Z","v":1631.38,"s":"lo"},
{"t":"2012-08-20T17:05Z","v":1617.94,"s":"mid"},{"t":"2012-08-21T05:25Z","v":1630.29,"s":"mid"}],
"tabs":[
{"t":"2012-08-20T09:35Z","name":"EURUSDi,M5"},{"t":"2012-08-20T11:24Z","name":".WTICrude,M5"},{"t":"2012-08-20T13:20Z","name":"XAUUSDi,Daily"},{"t":"2012-08-20T15:08Z","name":"XAUUSDi,H4"},{"t":"2012-08-20T16:48Z","name":"XAUUSDi,H1"},{"t":"2012-08-20T18:30Z","name":"XAUUSDi,M1"},{"t":"2012-08-20T20:20Z","name":"XAUUSDi,Daily"},{"t":"2012-08-20T22:09Z","name":"XAUUSDi,H1"},{"t":"2012-08-20T23:50Z","name":"XAUUSDi,M5"},{"t":"2012-08-21T01:35Z","name":"XAUUSDi,M5"},{"t":"2012-08-21T03:21Z","name":"XAUUSDi,M5"},{"t":"2012-08-21T05:04Z","name":"XAUUSDi,M5"},{"t":"2012-08-21T06:50Z","name":"XAUUSDi,M5"}],
"seps":[{"t":"2012-08-20T10:29Z"},{"t":"2012-08-20T12:24Z"},{"t":"2012-08-20T14:20Z"},{"t":"2012-08-20T15:59Z"},{"t":"2012-08-20T17:40Z"},{"t":"2012-08-20T19:23Z"},{"t":"2012-08-20T21:18Z"},{"t":"2012-08-20T23:00Z"},{"t":"2012-08-21T00:45Z"},{"t":"2012-08-21T02:29Z"},{"t":"2012-08-21T04:12Z"}]
},
"layer":[
{"data":{"name":"zones"},
 "mark":{"type":"rect","clip":true},
 "encoding":{
  "x":{"field":"t1","type":"temporal",
   "scale":{"type":"utc","nice":false,"padding":0,"domain":[{"year":2012,"month":8,"date":20,"hours":8,"minutes":43,"seconds":7,"milliseconds":500,"utc":true},{"year":2012,"month":8,"date":21,"hours":9,"minutes":53,"seconds":7,"milliseconds":500,"utc":true}]},
   "axis":{"orient":"bottom","title":null,"grid":false,"tickSize":3,"tickColor":"#000000","domainColor":"#000000","labelAlign":"left","labelBaseline":"top","labelPadding":1,"labelFont":"Liberation Sans","labelFontSize":9.5,"labelColor":"#000000","labelOverlap":false,"labelFlush":false,"labelBound":false,
    "values":[{"year":2012,"month":8,"date":20,"hours":8,"minutes":45,"utc":true},{"year":2012,"month":8,"date":20,"hours":10,"minutes":5,"utc":true},{"year":2012,"month":8,"date":20,"hours":11,"minutes":25,"utc":true},{"year":2012,"month":8,"date":20,"hours":12,"minutes":45,"utc":true},{"year":2012,"month":8,"date":20,"hours":15,"minutes":25,"utc":true},{"year":2012,"month":8,"date":20,"hours":16,"minutes":45,"utc":true},{"year":2012,"month":8,"date":20,"hours":18,"minutes":5,"utc":true},{"year":2012,"month":8,"date":20,"hours":19,"minutes":25,"utc":true},{"year":2012,"month":8,"date":20,"hours":20,"minutes":45,"utc":true}],
    "labelExpr":"utcFormat(datum.value, '%H:%M') == '08:45' ? '20 Aug 2012' : utcFormat(datum.value, '%d %b %H:%M')"}},
  "x2":{"field":"t2"},
  "y":{"field":"top","type":"quantitative","scale":{"domain":[1607.925,1633.2],"nice":false,"zero":false,"padding":0},
   "axis":{"orient":"right","title":null,"grid":false,"format":".2f","tickSize":3,"tickColor":"#000000","domainColor":"#000000","labelPadding":4,"labelFont":"Liberation Sans","labelFontSize":9.5,"labelColor":"#000000","labelOverlap":false,"labelFlush":false,"labelBound":false,"labelBaseline":"middle",
    "values":[1632.12,1630.77,1628.07,1626.72,1624.02,1622.67,1621.37,1618.67,1617.37,1616.02,1614.67,1613.37,1612.02,1610.67,1609.37,1608.02]}},
  "y2":{"field":"bot"},
  "fill":{"field":"k","type":"nominal","scale":{"domain":["pink","gray"],"range":["#FFE4E1","#DCDCDC"]},"legend":null}}},
{"data":{"name":"levels"},"mark":{"type":"rule","color":"#BDB76B","strokeWidth":1},
 "encoding":{"y":{"field":"v","type":"quantitative","title":null}}},
{"data":{"values":[{}]},"mark":{"type":"rule","color":"#FFFF00","strokeWidth":1},
 "encoding":{"y":{"datum":1622.0,"type":"quantitative"}}},
{"data":{"name":"bars"},"mark":{"type":"rule","color":"#FFFF00","strokeWidth":1},
 "encoding":{"x":{"field":"t","type":"temporal","title":null},"y":{"field":"eu","type":"quantitative","title":null},"y2":{"field":"el"}}},
{"data":{"name":"bars"},"mark":{"type":"rule","strokeWidth":1},
 "encoding":{"x":{"field":"t","type":"temporal","title":null},"y":{"field":"l","type":"quantitative","title":null},"y2":{"field":"h"},
  "color":{"condition":{"test":"datum.o == datum.c","value":"#000000"},"value":"#808080"}}},
{"data":{"name":"bars"},"mark":{"type":"bar","width":2.5,"strokeWidth":1},
 "encoding":{"x":{"field":"t","type":"temporal","title":null},"y":{"field":"o","type":"quantitative","title":null},"y2":{"field":"c"},
  "fill":{"condition":{"test":"datum.c < datum.o","value":"#D08888"},"value":"#E6E6FA"},
  "stroke":{"condition":{"test":"datum.o == datum.c","value":"#000000"},"value":"#808080"}}},
{"data":{"name":"bars"},"mark":{"type":"line","color":"#000000","strokeWidth":2},
 "encoding":{"x":{"field":"t","type":"temporal","title":null},"y":{"field":"eu","type":"quantitative","title":null}}},
{"data":{"name":"bars"},"mark":{"type":"line","color":"#000000","strokeWidth":2},
 "encoding":{"x":{"field":"t","type":"temporal","title":null},"y":{"field":"el","type":"quantitative","title":null}}},
{"data":{"name":"ma"},"mark":{"type":"line","strokeWidth":1},
 "encoding":{"x":{"field":"t","type":"temporal","title":null},"y":{"field":"v","type":"quantitative","title":null},
  "stroke":{"field":"s","type":"nominal","scale":{"domain":["b","r","n","g"],"range":["#0000FF","#FF0000","#008000","#808080"]},"legend":null}}},
{"data":{"name":"trend"},"transform":[{"filter":"datum.s != 'mid'"}],
 "mark":{"type":"line","color":"#FF0000","strokeWidth":3.5,"strokeCap":"round"},
 "encoding":{"x":{"field":"t","type":"temporal","title":null},"y":{"field":"v","type":"quantitative","title":null},"detail":{"field":"s","type":"nominal"}}},
{"data":{"name":"trend"},"transform":[{"filter":"datum.s == 'mid'"}],
 "mark":{"type":"line","color":"#FF0000","strokeWidth":1,"strokeDash":[10,6]},
 "encoding":{"x":{"field":"t","type":"temporal","title":null},"y":{"field":"v","type":"quantitative","title":null}}},
{"data":{"values":[{}]},"mark":{"type":"rule","color":"#3A82E0","strokeWidth":1,"strokeDash":[3,3]},
 "encoding":{"x":{"datum":{"year":2012,"month":8,"date":20,"hours":15,"minutes":0,"utc":true},"type":"temporal"}}},
{"data":{"values":[{"txt":"Weighted Daily Range (WDR) = Yesterdays range + 5d avg + 10d avg + 20d avg + 30d avg / 5 : 1579\nGuess Daily Range (XAU) based on WDR: 1694\nPrev Day Range: 862\n2 Days Ago Range: 1766\n3 Days Ago Range: 1660\n4 Days Ago Range: 2546\n5 Days Ago Range: 1843\nAverage of Last 5 Days Ranges: 1735\nAverage of Last 10 Days Ranges: 1528\nAverage of Last 20 Days Ranges: 1825\nAverage of Last 30 Days Ranges: 1948\nLast Weeks Range: 3578\nCurrent Week Range: 1254\nCurrent Day Range: 1254"}]},
 "mark":{"type":"text","align":"left","baseline":"alphabetic","lineBreak":"\n","lineHeight":12,"font":"Liberation Sans","fontSize":9.6,"fill":"#000000"},
 "encoding":{"x":{"datum":{"year":2012,"month":8,"date":20,"hours":8,"minutes":50,"utc":true},"type":"temporal"},"y":{"datum":1632.70,"type":"quantitative"},"text":{"field":"txt"}}},
{"data":{"values":[{"txt":"Spread: 37 points"}]},
 "mark":{"type":"text","align":"left","baseline":"middle","font":"Liberation Mono","fontSize":13,"fill":"#6495ED"},
 "encoding":{"x":{"datum":{"year":2012,"month":8,"date":20,"hours":9,"minutes":4,"utc":true},"type":"temporal"},"y":{"datum":1623.45,"type":"quantitative"},"text":{"field":"txt"}}},
{"data":{"values":[{"txt":"1622.00"}]},
 "mark":{"type":"text","align":"center","baseline":"middle","font":"DejaVu Sans","fontSize":13,"fill":"#008C00"},
 "encoding":{"x":{"datum":{"year":2012,"month":8,"date":21,"hours":7,"minutes":42,"utc":true},"type":"temporal"},"y":{"datum":1609.42,"type":"quantitative"},"text":{"field":"txt"}}},
{"data":{"values":[{"txt":"M5 Bar end: 0 m 39 s"}]},
 "mark":{"type":"text","align":"center","baseline":"middle","font":"DejaVu Sans","fontSize":13,"fill":"#000000"},
 "encoding":{"x":{"datum":{"year":2012,"month":8,"date":21,"hours":7,"minutes":42,"utc":true},"type":"temporal"},"y":{"datum":1608.61,"type":"quantitative"},"text":{"field":"txt"}}},
{"data":{"values":[{}]},"mark":{"type":"point","shape":"triangle-down","size":25,"filled":true,"color":"#FFFF00","opacity":1},
 "encoding":{"x":{"datum":{"year":2012,"month":8,"date":20,"hours":21,"minutes":16,"utc":true},"type":"temporal"},"y":{"datum":1633.10,"type":"quantitative"}}},
{"data":{"values":[{}]},"mark":{"type":"rect","color":"#C8C8C8"},
 "encoding":{"x":{"datum":{"year":2012,"month":8,"date":20,"hours":8,"minutes":30,"utc":true},"type":"temporal"},"x2":{"datum":{"year":2012,"month":8,"date":20,"hours":8,"minutes":40,"seconds":37,"utc":true}},
  "y":{"datum":1633.4,"type":"quantitative"},"y2":{"datum":1607.12}}},
{"data":{"values":[{}]},"mark":{"type":"rect","color":"#D4D0C8"},
 "encoding":{"x":{"datum":{"year":2012,"month":8,"date":21,"hours":10,"minutes":47,"seconds":30,"utc":true},"type":"temporal"},"x2":{"datum":{"year":2012,"month":8,"date":21,"hours":11,"minutes":30,"utc":true}},
  "y":{"datum":1633.4,"type":"quantitative"},"y2":{"datum":1607.12}}},
{"data":{"values":[{}]},"mark":{"type":"rect","color":"#E2E0DA"},
 "encoding":{"x":{"datum":{"year":2012,"month":8,"date":20,"hours":8,"minutes":20,"utc":true},"type":"temporal"},"x2":{"datum":{"year":2012,"month":8,"date":21,"hours":11,"minutes":30,"utc":true}},
  "y":{"datum":1607.12,"type":"quantitative"},"y2":{"datum":1606.0}}},
{"data":{"values":[{}]},"mark":{"type":"rule","color":"#808080","strokeWidth":1},
 "encoding":{"x":{"datum":{"year":2012,"month":8,"date":20,"hours":8,"minutes":20,"utc":true},"type":"temporal"},"x2":{"datum":{"year":2012,"month":8,"date":21,"hours":11,"minutes":30,"utc":true}},
  "y":{"datum":1607.12,"type":"quantitative"}}},
{"data":{"values":[{}]},"mark":{"type":"rect","color":"#FFFFFF","stroke":"#808080","strokeWidth":1},
 "encoding":{"x":{"datum":{"year":2012,"month":8,"date":21,"hours":5,"minutes":57,"seconds":30,"utc":true},"type":"temporal"},"x2":{"datum":{"year":2012,"month":8,"date":21,"hours":7,"minutes":42,"seconds":30,"utc":true}},
  "y":{"datum":1607.16,"type":"quantitative"},"y2":{"datum":1606.0}}},
{"data":{"name":"seps"},"mark":{"type":"rule","color":"#808080","strokeWidth":1},
 "encoding":{"x":{"field":"t","type":"temporal","title":null},"y":{"datum":1606.91,"type":"quantitative"},"y2":{"datum":1606.43}}},
{"data":{"name":"tabs"},
 "mark":{"type":"text","align":"center","baseline":"middle","font":"Liberation Sans","fontSize":10.3,"fill":"#333333"},
 "encoding":{"x":{"field":"t","type":"temporal","title":null},"y":{"datum":1606.67,"type":"quantitative"},"text":{"field":"name"}}},
{"data":{"values":[{}]},"mark":{"type":"rect","color":"#3399FF"},
 "encoding":{"x":{"datum":{"year":2012,"month":8,"date":20,"hours":14,"minutes":5,"utc":true},"type":"temporal"},"x2":{"datum":{"year":2012,"month":8,"date":20,"hours":15,"minutes":47,"utc":true}},
  "y":{"datum":1607.80,"type":"quantitative"},"y2":{"datum":1607.24}}},
{"data":{"values":[{"txt":"2012.08.20 15:00"}]},
 "mark":{"type":"text","align":"center","baseline":"middle","font":"Liberation Sans","fontSize":9.5,"fill":"#FFFFFF"},
 "encoding":{"x":{"datum":{"year":2012,"month":8,"date":20,"hours":14,"minutes":56,"utc":true},"type":"temporal"},"y":{"datum":1607.52,"type":"quantitative"},"text":{"field":"txt"}}},
{"data":{"values":[{}]},"mark":{"type":"tick","orient":"horizontal","size":39,"thickness":3,"color":"#000000","opacity":1},
 "encoding":{"x":{"datum":{"year":2012,"month":8,"date":21,"hours":10,"minutes":21,"seconds":15,"utc":true},"type":"temporal"},"y":{"datum":1621.84,"type":"quantitative"}}},
{"data":{"name":"levels"},"transform":[{"filter":"datum.v == 1626.35 || datum.v == 1618.18"}],
 "mark":{"type":"tick","orient":"horizontal","size":39,"thickness":11,"color":"#C2BA72","opacity":1},
 "encoding":{"x":{"datum":{"year":2012,"month":8,"date":21,"hours":10,"minutes":21,"seconds":15,"utc":true},"type":"temporal"},"y":{"field":"v","type":"quantitative","title":null}}},
{"data":{"name":"levels"},"transform":[{"filter":"datum.v == 1626.35 || datum.v == 1618.18"}],
 "mark":{"type":"text","align":"center","baseline":"middle","font":"Liberation Sans","fontSize":9.5,"fill":"#F8F8F0"},
 "encoding":{"x":{"datum":{"year":2012,"month":8,"date":21,"hours":10,"minutes":21,"seconds":15,"utc":true},"type":"temporal"},"y":{"field":"v","type":"quantitative","title":null},"text":{"field":"v","type":"quantitative","format":".2f"}}},
{"data":{"name":"levels"},"transform":[{"filter":"datum.v != 1626.35 && datum.v != 1618.18"}],
 "mark":{"type":"tick","orient":"horizontal","size":39,"thickness":11,"color":"#C2BA72","opacity":1},
 "encoding":{"x":{"datum":{"year":2012,"month":8,"date":21,"hours":10,"minutes":21,"seconds":15,"utc":true},"type":"temporal"},"y":{"field":"v","type":"quantitative","title":null}}},
{"data":{"name":"levels"},"transform":[{"filter":"datum.v != 1626.35 && datum.v != 1618.18"}],
 "mark":{"type":"text","align":"center","baseline":"middle","font":"Liberation Sans","fontSize":9.5,"fill":"#F8F8F0"},
 "encoding":{"x":{"datum":{"year":2012,"month":8,"date":21,"hours":10,"minutes":21,"seconds":15,"utc":true},"type":"temporal"},"y":{"field":"v","type":"quantitative","title":null},"text":{"field":"v","type":"quantitative","format":".2f"}}}
]
}
